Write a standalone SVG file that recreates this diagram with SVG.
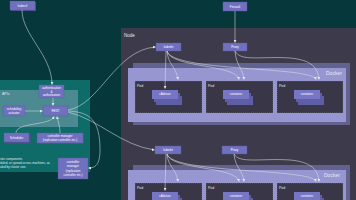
<svg xmlns="http://www.w3.org/2000/svg" width="356" height="200" viewBox="0 0 356 200">
<defs>
<marker id="ah" viewBox="0 0 6 6" refX="5.5" refY="3" markerWidth="3" markerHeight="3" markerUnits="userSpaceOnUse" orient="auto"><path d="M0,0 L6,3 L0,6 z" fill="#e4e8ec"/></marker>
<style>
.box{fill:#7170bf;stroke:#5b5aa0;stroke-width:0.4}
.sh{fill:#4f4e8c}
.t{font-family:"Liberation Sans",Arial,sans-serif;fill:#ffffff;text-anchor:middle}
.s3{font-size:3px}
.s35{font-size:3.5px}
.c{fill:none;stroke:#d9dfe3;stroke-width:0.55;marker-end:url(#ah)}
.pod{fill:#393747;stroke:#8e8ea8;stroke-width:0.5;stroke-dasharray:1 1}
.cb{fill:#5e5da5}
.cf{fill:#7776c4}
.lbl{font-family:"Liberation Sans",Arial,sans-serif;fill:#e6e6f0;font-size:3.5px}
</style>
</defs>
<rect width="356" height="200" fill="#06373a"/>

<g id="master">
<rect x="-2" y="80" width="92" height="92" fill="#0f6b68"/>
<rect x="-2" y="90" width="80" height="37" fill="#4b8a91"/>
<text x="2" y="94.5" class="lbl">APIs</text>
<text class="lbl" style="font-size:3px"><tspan x="0" y="160">ster components</tspan><tspan x="0" y="164.2">duled, or spread across machines, as</tspan><tspan x="0" y="168.4">aled by cluster size.</tspan></text>
</g>

<g id="node">
<rect x="121" y="28" width="240" height="180" fill="#3d3b4b"/>
<text x="124" y="36.5" class="lbl" style="font-size:4.5px">Node</text>
</g>

<g id="kubectl">
<rect x="11" y="2" width="25" height="9" class="sh"/>
<rect x="10" y="1" width="25" height="9" class="box"/>
<text x="22.5" y="6.8" class="t s3">kubectl</text>
</g>

<g id="authn">
<rect x="39" y="85" width="25" height="13" class="box"/>
<text class="t s3"><tspan x="51.5" y="89">authentication</tspan><tspan x="51.5" y="92.5">&amp;</tspan><tspan x="51.5" y="96">authorization</tspan></text>
</g>

<g id="actuator">
<rect x="3" y="106" width="22" height="10" class="box"/>
<text class="t s3"><tspan x="14" y="110.2">scheduling</tspan><tspan x="14" y="114">actuator</tspan></text>
</g>

<g id="rest">
<rect x="43" y="106" width="25" height="10" class="box"/>
<text x="55.5" y="112" class="t s3">REST</text>
</g>

<g id="scheduler">
<rect x="5.5" y="134.5" width="25" height="9" class="sh"/>
<rect x="4" y="133" width="25" height="9" class="box"/>
<text x="16.5" y="138.8" class="t s3">Scheduler</text>
</g>

<g id="ctrl1">
<rect x="38" y="134" width="46" height="10" class="sh"/>
<rect x="37" y="133" width="46" height="10" class="box"/>
<text class="t s3"><tspan x="60" y="137.3">controller manager</tspan><tspan x="60" y="141">(replication controller etc.)</tspan></text>
</g>

<g id="ctrl2">
<rect x="58" y="158" width="30" height="21" class="box"/>
<text class="t s3"><tspan x="73" y="163">controller</tspan><tspan x="73" y="167">manager</tspan><tspan x="73" y="171.5">(replication</tspan><tspan x="73" y="175.5">controller etc.)</tspan></text>
</g>

<g id="firewall">
<rect x="223" y="2" width="24" height="9" class="box"/>
<text x="235" y="7.8" class="t s3">Firewall</text>
</g>

<g id="kubelet1">
<rect x="156" y="43" width="25" height="8" class="box"/>
<text x="168.5" y="48.2" class="t s3">kubelet</text>
</g>
<g id="proxy1">
<rect x="223" y="43" width="24" height="8" class="box"/>
<text x="235" y="48.2" class="t s3">Proxy</text>
</g>

<g id="docker1">
<rect x="133" y="63" width="217" height="62" fill="#63628f"/>
<rect x="128" y="68" width="218" height="54" fill="#9896d0"/>
<text x="326" y="74.5" class="lbl" style="font-size:5px">Docker</text>
</g>
<g id="pod1a">
<rect x="135" y="81" width="67" height="32" class="pod"/>
<text x="137" y="86.5" class="lbl">Pod</text>
<rect x="156" y="96" width="26" height="9" class="cb"/>
<rect x="154" y="93" width="26" height="9" class="cb"/>
<rect x="152" y="90" width="26" height="9" class="cf"/>
<text x="165" y="95.3" class="t s3">cAdvisor</text>
</g>
<g id="pod2a">
<rect x="206" y="81" width="67" height="32" class="pod"/>
<text x="208" y="86.5" class="lbl">Pod</text>
<rect x="227" y="96" width="26" height="9" class="cb"/>
<rect x="225" y="93" width="26" height="9" class="cb"/>
<rect x="223" y="90" width="26" height="9" class="cf"/>
<text x="236" y="95.3" class="t s3">container</text>
</g>
<g id="pod3a">
<rect x="277" y="81" width="66" height="32" class="pod"/>
<text x="279" y="86.5" class="lbl">Pod</text>
<rect x="298" y="96" width="26" height="9" class="cb"/>
<rect x="296" y="93" width="26" height="9" class="cb"/>
<rect x="294" y="90" width="26" height="9" class="cf"/>
<text x="307" y="95.3" class="t s3">container</text>
</g>

<g id="kubelet2">
<rect x="155" y="146" width="26" height="8" class="box"/>
<text x="168" y="151.2" class="t s3">kubelet</text>
</g>
<g id="proxy2">
<rect x="222" y="146" width="25" height="8" class="box"/>
<text x="234.5" y="151.2" class="t s3">Proxy</text>
</g>

<g id="docker2">
<rect x="133" y="165" width="217" height="62" fill="#63628f"/>
<rect x="128" y="170" width="218" height="54" fill="#9896d0"/>
<text x="324" y="176.5" class="lbl" style="font-size:5px">Docker</text>
</g>
<g id="pod1b">
<rect x="135" y="183" width="67" height="32" class="pod"/>
<text x="137" y="188.5" class="lbl">Pod</text>
<rect x="156" y="198" width="26" height="9" class="cb"/>
<rect x="154" y="195" width="26" height="9" class="cb"/>
<rect x="152" y="192" width="26" height="9" class="cf"/>
<text x="165" y="197.3" class="t s3">cAdvisor</text>
</g>
<g id="pod2b">
<rect x="206" y="183" width="67" height="32" class="pod"/>
<text x="208" y="188.5" class="lbl">Pod</text>
<rect x="227" y="198" width="26" height="9" class="cb"/>
<rect x="225" y="195" width="26" height="9" class="cb"/>
<rect x="223" y="192" width="26" height="9" class="cf"/>
<text x="236" y="197.3" class="t s3">container</text>
</g>
<g id="pod3b">
<rect x="277" y="183" width="66" height="32" class="pod"/>
<text x="279" y="188.5" class="lbl">Pod</text>
<rect x="298" y="198" width="26" height="9" class="cb"/>
<rect x="296" y="195" width="26" height="9" class="cb"/>
<rect x="294" y="192" width="26" height="9" class="cf"/>
<text x="307" y="197.3" class="t s3">container</text>
</g>

<g id="connectors">
<path class="c" d="M22,10 C22,35 52,55 52,84.5"/>
<path class="c" d="M53,98 L53,105.5"/>
<path class="c" d="M25,111 L42.5,111"/>
<path class="c" d="M16,133 C16,122 50,126 54,116.5"/>
<path class="c" d="M60,133 C60,126 58,122 57,116.5"/>
<path class="c" d="M68,111 C90,112 100,120 100,150 C100,165 95,168 88.5,168"/>
<path class="c" d="M68,110 C100,105 115,50 155.5,47"/>
<path class="c" d="M68,112 C100,120 120,145 154.5,150"/>
<path class="c" d="M235,11 L235,42.5"/>
<path class="c" d="M166,51 L165,88.5"/>
<path class="c" d="M167,51 C168,65 176,66 178,79.5"/>
<path class="c" d="M167,51 C170,68 236,64 239,79.5"/>
<path class="c" d="M167,51 C172,72 312,66 316,79.5"/>
<path class="c" d="M235,51 C236,66 243,68 244,79.5"/>
<path class="c" d="M235,51 C240,62 262,56 290,58 C312,60 318,68 319,79.5"/>
<path class="c" d="M166,154 L165,190.5"/>
<path class="c" d="M167,154 C168,167 176,168 178,181.5"/>
<path class="c" d="M167,154 C170,170 236,166 239,181.5"/>
<path class="c" d="M167,154 C172,174 312,168 316,181.5"/>
<path class="c" d="M234,154 C235,168 243,170 244,181.5"/>
<path class="c" d="M234,154 C239,164 262,158 290,160 C312,162 318,170 319,181.5"/>
</g>
</svg>
